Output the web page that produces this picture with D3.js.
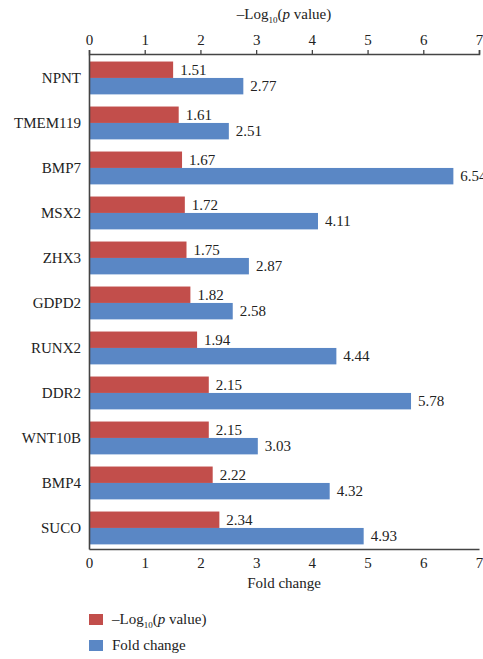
<!DOCTYPE html>
<html><head><meta charset="utf-8">
<script src="https://cdn.jsdelivr.net/npm/d3@7"></script>
<style>body{margin:0;background:#fff}svg{display:block}text{font-family:"Liberation Serif","DejaVu Serif",serif;fill:#222}</style>
</head><body><div id="chart"></div>
<script>
const genes = ["NPNT","TMEM119","BMP7","MSX2","ZHX3","GDPD2","RUNX2","DDR2","WNT10B","BMP4","SUCO"];
const logP = [1.51,1.61,1.67,1.72,1.75,1.82,1.94,2.15,2.15,2.22,2.34];
const foldChange = [2.77,2.51,6.54,4.11,2.87,2.58,4.44,5.78,3.03,4.32,4.93];
const ticks = [0,1,2,3,4,5,6,7];
const seriesNames = ["logP","fold"];
const colors = {logP:"#C24E4B", fold:"#5A87C5"};

const W=483,H=659;
const svg=d3.select("#chart").append("svg").attr("width",W).attr("height",H);
const x0=89,x1=479,yTop=54,yBot=549;
const x=d3.scaleLinear().domain([0,7]).range([x0,x1]);
const y=d3.scaleBand().domain(genes).range([yTop,yBot]).paddingInner(0.27).paddingOuter(0.135).align(0.62);
const sub=d3.scaleBand().domain(seriesNames).range([0,y.bandwidth()]);

const data=genes.map((g,i)=>({g,logP:logP[i],fold:foldChange[i]}));

const grp=svg.append("g");
data.forEach(d=>{
  seriesNames.forEach(s=>{
    grp.append("rect").attr("x",x(0)).attr("y",y(d.g)+sub(s))
      .attr("width",x(d[s])-x(0)).attr("height",sub.bandwidth()).attr("fill",colors[s]);
    grp.append("text").attr("x",x(d[s])+7).attr("y",y(d.g)+sub(s)+sub.bandwidth()/2)
      .attr("dy","0.35em").attr("font-size",15).text(d[s].toFixed(2));
  });
});

const axTop=svg.append("g").attr("transform",`translate(0,${yTop})`)
  .call(d3.axisTop(x).tickValues(ticks).tickFormat(d3.format("d")).tickSize(4).tickSizeOuter(4));
const axBot=svg.append("g").attr("transform",`translate(0,${yBot})`)
  .call(d3.axisBottom(x).tickValues(ticks).tickFormat(d3.format("d")).tickSize(0).tickSizeOuter(0).tickPadding(8));
const axLeft=svg.append("g").attr("transform",`translate(${x0},0)`)
  .call(d3.axisLeft(y).tickSize(0).tickPadding(8));
[axTop,axBot,axLeft].forEach(a=>{
  a.selectAll("path").attr("stroke","#444").attr("stroke-width",1.6);
  a.selectAll("line").attr("stroke","#444").attr("stroke-width",1.3);
  a.selectAll("text").attr("font-family","Liberation Serif, serif").attr("font-size",15).attr("fill","#222");
});
axTop.selectAll(".tick text").attr("dy","-0.15em");
axBot.selectAll(".tick text").attr("dy","0.75em");
axLeft.selectAll(".tick text").attr("dy","0.35em");

function logLabel(sel){
  sel.append("tspan").text("\u2013Log");
  sel.append("tspan").attr("font-size",9).attr("dy",4).text("10");
  sel.append("tspan").attr("dy",-4).text("(");
  sel.append("tspan").attr("font-style","italic").text("p");
  sel.append("tspan").text(" value)");
}
svg.append("text").attr("x",(x0+x1)/2).attr("y",19).attr("text-anchor","middle").attr("font-size",15).call(logLabel);
svg.append("text").attr("x",(x0+x1)/2).attr("y",588).attr("text-anchor","middle").attr("font-size",15).text("Fold change");

const leg=svg.append("g");
[["logP",614],["fold",640]].forEach(([s,yy])=>{
  leg.append("rect").attr("x",89).attr("y",yy).attr("width",14).attr("height",11).attr("fill",colors[s]);
  const t=leg.append("text").attr("x",112).attr("y",yy+10).attr("font-size",15);
  if(s==="logP") logLabel(t); else t.text("Fold change");
});
</script></body></html>
